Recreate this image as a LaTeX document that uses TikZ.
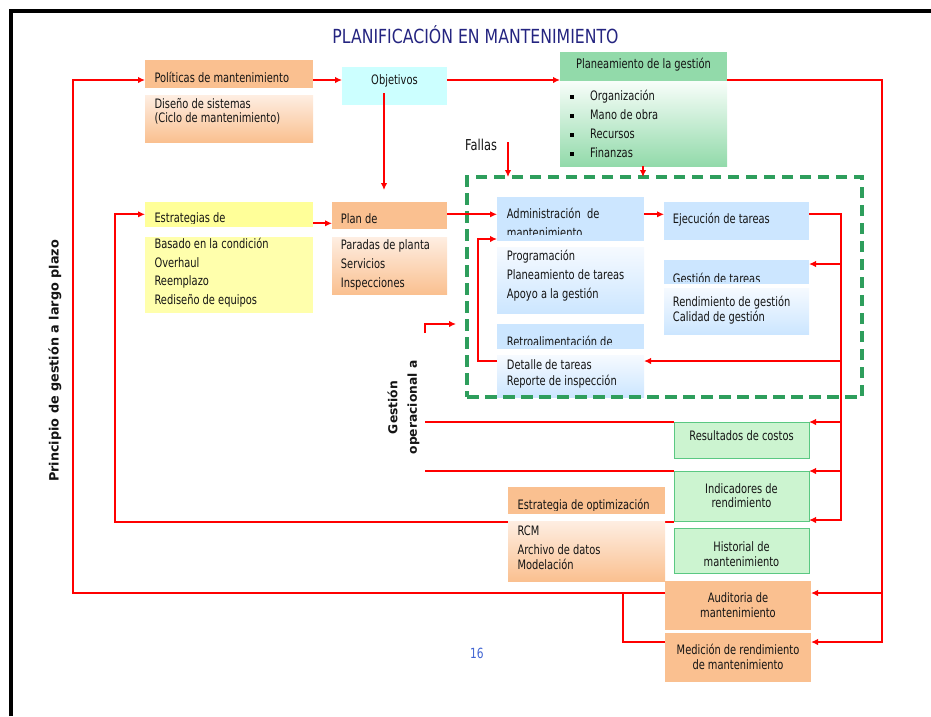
\documentclass[tikz,border=0pt]{standalone}
\usepackage{fontspec}
\setmainfont{DejaVu Sans}[FakeStretch=0.76]
\newfontfamily\labelfont{DejaVu Sans}
\newfontfamily\titlefont{DejaVu Sans}[FakeStretch=0.81]
\usetikzlibrary{arrows.meta,fit}

\definecolor{orng}{RGB}{250,192,144}
\definecolor{orngtop}{RGB}{254,238,226}
\definecolor{cyanbox}{RGB}{204,255,255}
\definecolor{grn}{RGB}{146,218,170}
\definecolor{grntop}{RGB}{248,254,250}
\definecolor{ylw}{RGB}{255,255,153}
\definecolor{ylwb}{RGB}{255,255,172}
\definecolor{blu}{RGB}{204,230,255}
\definecolor{blutop}{RGB}{246,250,255}
\definecolor{gfill}{RGB}{204,244,208}
\definecolor{gmid}{RGB}{238,254,238}
\definecolor{gline}{RGB}{90,200,130}
\definecolor{dgreen}{RGB}{46,158,92}
\definecolor{navy}{RGB}{36,36,128}
\definecolor{pagenum}{RGB}{64,100,210}
\definecolor{ink}{RGB}{20,20,20}

\newcommand\bodysize{\fontsize{13}{15}\selectfont}

\tikzset{
  box/.style={inner sep=0pt, outer sep=0pt},
  orngbox/.style={box, fill=orng},
  orngshade/.style={box, top color=orngtop, bottom color=orng},
  blubox/.style={box, fill=blu},
  blushade/.style={box, top color=blutop, bottom color=blu},
  gbox/.style={box, draw=gline, line width=0.9pt, top color=gfill, middle color=gmid, bottom color=gfill},
  ln/.style={draw=red, line width=1.8pt},
  arr/.style={ln, -{Latex[length=7pt,width=6.5pt]}},
  tl/.style={anchor=base west, inner sep=0pt, font=\bodysize, text=ink},
  tc/.style={anchor=base, inner sep=0pt, font=\bodysize, text=ink},
}

\begin{document}
\begin{tikzpicture}[x=1pt,y=-1pt]
\useasboundingbox (0,0) rectangle (931,716);

% frame
\draw[line width=4pt] (11,716) -- (11,11) -- (931,11);

% title
\node[anchor=base, inner sep=0pt, text=navy, font=\titlefont\fontsize{19.4}{22}\selectfont] (title) at (475.5,43.3) {PLANIFICACIÓN EN MANTENIMIENTO};

% row and column coordinates of the connectors
\coordinate (rA) at (0,80);
\coordinate (r214) at (0,214.3);
\coordinate (r223) at (0,223.3);
\coordinate (r239) at (0,239);
\coordinate (r264) at (0,264);
\coordinate (r361) at (0,361);
\coordinate (r422) at (0,422);
\coordinate (r471) at (0,471);
\coordinate (r520) at (0,520);
\coordinate (r522) at (0,522);
\coordinate (r593) at (0,593);
\coordinate (r642) at (0,642);
\coordinate (c73) at (73,0);
\coordinate (c115) at (115,0);
\coordinate (c425) at (425,0);
\coordinate (c478) at (478,0);
\coordinate (c623) at (623,0);
\coordinate (c643) at (643,0);
\coordinate (c841) at (841,0);
\coordinate (c882) at (882,0);
\coordinate (objOut) at (384,93);
\coordinate (planIn) at (384,190);
\coordinate (fallasOut) at (508,142);
\coordinate (opA) at (425,333);
\coordinate (opB) at (425,324);
\coordinate (opC) at (456,324);

% boxes
\node[orngbox, fit={(145,60)(313,88)}] (polh) {};
\node[orngshade, fit={(145,95)(313,142)}] (polb) {};
\node[box, fill=cyanbox, fit={(342,67)(447,105)}] (obj) {};
\node[box, fill=grn, fit={(560,52)(727,81)}] (plh) {};
\node[box, top color=grntop, bottom color=grn, fit={(560,81)(727,166)}] (plb) {};
\node[box, fill=ylw, fit={(145,202)(313,227)}] (esth) {};
\node[box, fill=ylwb, fit={(145,237)(313,313)}] (estb) {};
\node[orngbox, fit={(332,202)(447,229)}] (pdeh) {};
\node[orngshade, fit={(332,237)(447,294)}] (pdeb) {};
\node[blubox, fit={(497,197)(644,241)}] (admh) {};
\node[blushade, fit={(497,247)(644,313)}] (admb) {};
\node[blubox, fit={(664,202)(809,240)}] (eje) {};
\node[blubox, fit={(664,260)(809,284)}] (gesh) {};
\node[blushade, fit={(664,288)(809,334)}] (gesb) {};
\node[blubox, fit={(497,324)(644,349)}] (reth) {};
\node[blushade, fit={(497,355)(644,397)}] (det) {};
\node[gbox, fit={(674,422)(809,458)}] (res) {};
\node[gbox, fit={(674,471)(809,521)}] (ind) {};
\node[gbox, fit={(674,528)(809,573)}] (his) {};
\node[orngbox, fit={(665,581)(811,630)}] (aud) {};
\node[orngbox, fit={(665,633)(811,682)}] (med) {};

% feedback from the indicators back to the strategies (runs behind the optimisation box)
\draw[arr] (ind.west |- r522) -- (c115 |- r522) -- (c115 |- r214) -- (esth.west |- r214);

\node[orngbox, fit={(508,487)(665,514)}] (opth) {};
\node[orngshade, fit={(508,521)(665,581)}] (optb) {};

% operational management group
\node[box, draw=dgreen, line width=3.5pt, dash pattern=on 11.5pt off 6.5pt, fit={(467,177)(862,397)}] (grp) {};

% connectors
\draw[arr] (aud.west |- r593) -- (c73 |- r593) -- (c73 |- rA) -- (polh.west |- rA);
\draw[ln] (med.west |- r642) -- (c623 |- r642) -- (c623 |- r593);
\draw[arr] (polh.east |- rA) -- (obj.west |- rA);
\draw[arr] (obj.east |- rA) -- (plh.west |- rA);
\draw[arr] (plh.east |- rA) -- (c882 |- rA) -- (c882 |- r642) -- (med.east |- r642);
\draw[arr] (c882 |- r593) -- (aud.east |- r593);
\draw[arr] (objOut) -- (planIn);
\draw[arr] (esth.east |- r223) -- (pdeh.west |- r223);
\draw[arr] (pdeh.east |- r214) -- (admh.west |- r214);
\draw[arr] (admh.east |- r214) -- (eje.west |- r214);
\draw[arr] (eje.east |- r214) -- (c841 |- r214) -- (c841 |- r520) -- (ind.east |- r520);
\draw[arr] (c841 |- r264) -- (gesh.east |- r264);
\draw[arr] (c841 |- r361) -- (det.east |- r361);
\draw[arr] (c841 |- r422) -- (res.east |- r422);
\draw[arr] (c841 |- r471) -- (ind.east |- r471);
\draw[arr] (det.west |- r361) -- (c478 |- r361) -- (c478 |- r239) -- (admh.west |- r239);
\draw[arr] (opA) -- (opB) -- (opC);
\draw[ln] (res.west |- r422) -- (c425 |- r422);
\draw[ln] (ind.west |- r471) -- (c425 |- r471);
\draw[arr] (fallasOut) -- (fallasOut |- grp.north);
\draw[arr] (plb.south -| c643) -- (c643 |- grp.north);

% texts
\node[tl] (t1) at (154.3,82.3) {Políticas de mantenimiento};
\node[tl] (t2) at (154.3,108.3) {Diseño de sistemas};
\node[tl] (t3) at (154.3,122.8) {(Ciclo de mantenimiento)};
\node[tc] (t4) at (394.5,84.5) {Objetivos};
\node[tc] (t5) at (643.5,68.3) {Planeamiento de la gestión};
\foreach \yy/\tx [count=\i] in {100.5/Organización, 119.5/Mano de obra, 138.5/Recursos, 157.5/Finanzas}{
  \fill[black] (570.2,\yy-5.8) rectangle (573.8,\yy-2);
  \node[tl] (pl\i) at (590,\yy) {\tx};
}
\node[anchor=base west, inner sep=0pt, text=ink, font=\fontsize{15}{17}\selectfont] (fallas) at (465,150.5) {Fallas};

\begin{scope}
  \clip (145,202) rectangle (313,223.2);
  \node[tl] (t6) at (154.3,222.3) {Estrategias de};
\end{scope}
\node[tl] (t7) at (154.3,248.3) {Basado en la condición};
\node[tl] (t8) at (154.3,267) {Overhaul};
\node[tl] (t9) at (154.3,285.7) {Reemplazo};
\node[tl] (t10) at (154.3,304.4) {Rediseño de equipos};

\node[tl] (t11) at (340.7,223) {Plan de};
\node[tl] (t12) at (340.7,249) {Paradas de planta};
\node[tl] (t13) at (340.7,268) {Servicios};
\node[tl] (t14) at (340.7,287) {Inspecciones};

\begin{scope}
  \clip (497,197) rectangle (644,234.6);
  \node[tl] (t15) at (506.7,218.3) {Administración\ \ de};
  \node[tl] (t16) at (506.7,237) {mantenimiento};
\end{scope}
\node[tl] (t17) at (506.7,260.4) {Programación};
\node[tl] (t18) at (506.7,279.6) {Planeamiento de tareas};
\node[tl] (t19) at (506.7,298.7) {Apoyo a la gestión};

\node[tl] (t20) at (672.7,223.3) {Ejecución de tareas};
\begin{scope}
  \clip (664,260) rectangle (809,281.2);
  \node[tl] (t21) at (672.7,283) {Gestión de tareas};
\end{scope}
\node[tl] (t22) at (672.7,306.7) {Rendimiento de gestión};
\node[tl] (t23) at (672.7,321) {Calidad de gestión};

\begin{scope}
  \clip (497,324) rectangle (644,344.6);
  \node[tl] (t24) at (506.7,346) {Retroalimentación de};
\end{scope}
\node[tl] (t25) at (506.7,369.3) {Detalle de tareas};
\node[tl] (t26) at (506.7,385.5) {Reporte de inspección};

\node[tc] (t27) at (741.5,440) {Resultados de costos};
\node[tc] (t28) at (741.5,493.3) {Indicadores de};
\node[tc] (t29) at (741.5,507.7) {rendimiento};
\node[tc] (t30) at (741.5,551.7) {Historial de};
\node[tc] (t31) at (741.5,566) {mantenimiento};

\begin{scope}
  \clip (508,487) rectangle (665,510.4);
  \node[tl] (t32) at (517.3,509.3) {Estrategia de optimización};
\end{scope}
\node[tl] (t33) at (517.3,535) {RCM};
\node[tl] (t34) at (517.3,554) {Archivo de datos};
\node[tl] (t35) at (517.3,569.3) {Modelación};

\node[tc] (t36) at (738,602.7) {Auditoria de};
\node[tc] (t37) at (738,617.3) {mantenimiento};
\node[tc] (t38) at (738,654.3) {Medición de rendimiento};
\node[tc] (t39) at (738,669.3) {de mantenimiento};

\node[anchor=base west, inner sep=0pt, text=pagenum, font=\fontsize{14}{16}\selectfont] (pg) at (470,658.3) {16};

% rotated side labels
\node[rotate=90, inner sep=0pt, text=ink, font=\labelfont\bfseries\fontsize{12.8}{15}\selectfont] (longterm) at (55,361) {Principio de gestión a largo plazo};
\node[rotate=90, inner sep=0pt, align=center, text=ink, font=\labelfont\bfseries\fontsize{12.3}{19.5}\selectfont] (operational) at (403.5,407.5) {Gestión\\operacional a};

\end{tikzpicture}
\end{document}
